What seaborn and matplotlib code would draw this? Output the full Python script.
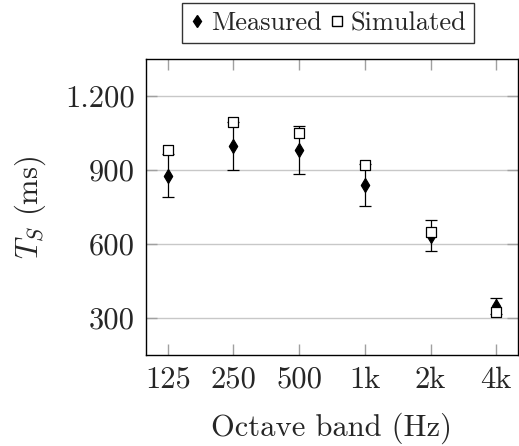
import numpy as np
import pandas as pd
import matplotlib
matplotlib.use("Agg")
import matplotlib.pyplot as plt
import seaborn as sns
from matplotlib.lines import Line2D
from matplotlib.ticker import FuncFormatter

bands = ["125", "250", "500", "1k", "2k", "4k"]
measured = [877, 996, 981, 839, 633, 350]
measured_err = [87, 97, 97, 85, 63, 32]
simulated = [980, 1093, 1049, 921, 650, 324]
yticks = [300, 600, 900, 1200]

sns.set_style("white")
plt.rcParams["font.family"] = ["cmr10", "DejaVu Serif"]
plt.rcParams["mathtext.fontset"] = "cm"
plt.rcParams["axes.formatter.use_mathtext"] = True

pos = np.arange(len(bands))
df_m = pd.DataFrame({"pos": pos, "val": measured, "err": measured_err})
df_s = pd.DataFrame({"pos": pos, "val": simulated})

fig = plt.figure(figsize=(5.19, 4.46), dpi=100)
ax = fig.add_axes([0.2813, 0.204, 0.7167, 0.6637])

ax.yaxis.grid(True, color="#c8c8c8", lw=1.0, zorder=0)
ax.set_axisbelow(True)

ax.errorbar(df_m["pos"], df_m["val"], yerr=df_m["err"], fmt="none",
            ecolor="black", elinewidth=0.9, capsize=4, capthick=0.9, zorder=2)
sns.scatterplot(data=df_m, x="pos", y="val", ax=ax, marker="d", s=52,
                color="black", edgecolor="black", linewidth=0.8, zorder=3)
sns.scatterplot(data=df_s, x="pos", y="val", ax=ax, marker="s", s=62,
                facecolor="white", edgecolor="black", linewidth=0.9, zorder=4)

ax.set_xlim(-0.33, 5.33)
ax.set_ylim(150, 1350)
ax.set_xticks(pos)
ax.set_xticklabels(bands)
ax.set_yticks(yticks)
ax.yaxis.set_major_formatter(FuncFormatter(lambda v, p: f"{int(v):,}".replace(",", ".")))

ax.tick_params(axis="both", direction="in", length=8, width=1, color="#a0a0a0",
               labelsize=22, top=True, right=True, bottom=True, left=True)
ax.tick_params(axis="y", pad=8)
ax.tick_params(axis="x", pad=8)
for sp in ax.spines.values():
    sp.set_color("black")
    sp.set_linewidth(1.0)

ax.set_xlabel("Octave band (Hz)", fontsize=22, labelpad=14)
ax.set_ylabel(r"$T_S$ (ms)", fontsize=22, labelpad=12)

handles = [
    Line2D([], [], marker="d", color="black", linestyle="none", markersize=6),
    Line2D([], [], marker="s", markerfacecolor="white", markeredgecolor="black",
           linestyle="none", markersize=7),
]
leg = fig.legend(handles, ["Measured", "Simulated"], loc="center",
                 bbox_to_anchor=(0.632, 0.948), ncol=2, fontsize=19,
                 frameon=True, fancybox=False, edgecolor="black",
                 handlelength=0.6, handletextpad=0.2, columnspacing=0.3,
                 borderpad=0.3, borderaxespad=0)
leg.get_frame().set_linewidth(1.0)

fig.savefig("out.png", dpi=100)
